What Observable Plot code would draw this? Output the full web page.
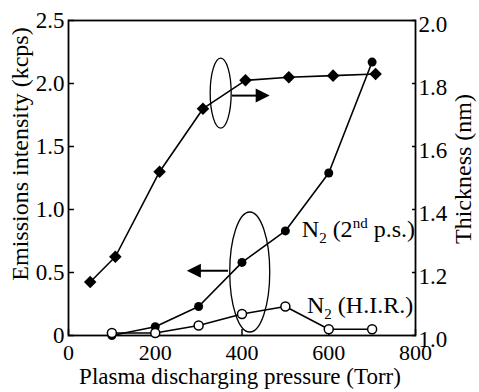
<!DOCTYPE html>
<html><head><meta charset="utf-8">
<script src="https://cdn.jsdelivr.net/npm/d3@7"></script>
<script src="https://cdn.jsdelivr.net/npm/@observablehq/plot@0.6"></script>
<style>body{margin:0;background:#fff} svg{display:block} svg, svg text {font-family: "Liberation Serif", "DejaVu Serif", serif !important;}</style>
</head><body><div id="chart"></div>
<script>
// ---- data ----
const thickPressure = [50, 108, 210, 310, 408, 508, 610, 708];
const thickness     = [1.17, 1.25, 1.52, 1.72, 1.81, 1.82, 1.825, 1.83];
const n2Pressure    = [100, 200, 300, 400, 500, 600, 700];
const n2Second      = [0.0, 0.07, 0.23, 0.58, 0.83, 1.29, 2.17];
const n2HIR         = [0.02, 0.02, 0.08, 0.17, 0.23, 0.05, 0.05];
const xTicks          = [0, 200, 400, 600, 800];
const leftTicks       = [0, 0.5, 1, 1.5, 2, 2.5];
const leftTickLabels  = ["0", "0.5", "1.0", "1.5", "2.0", "2.5"];
const rightTickLabels = ["1.0", "1.2", "1.4", "1.6", "1.8", "2.0"];
const leftDomain  = [0, 2.5];
const thickDomain = [1.0, 2.0];
const xTitle = "Plasma discharging pressure (Torr)";
const yTitle = "Emissions intensity (kcps)";
const y2Title = "Thickness (nm)";

// annotations (callout ellipses, arrows, series labels)
const ellipseNotes = [{x: 352, y: 1.92, rx: 10.5, ry: 35}, {x: 419, y: 0.5, rx: 20, ry: 60}];
const arrowNotes = [{x1: 378, x2: 465, y: 1.90}, {x1: 369, x2: 274, y: 0.51}];
const labelNotes = [
  {x: 539, y: 0.78, parts: [["N"], ["2", "sub"], [" (2"], ["nd", "sup"], [" p.s.)"]]},
  {x: 551, y: 0.175, parts: [["N"], ["2", "sub"], [" (H.I.R.)"]]}
];

// ---- build tables ----
const toLeft = t => (t - thickDomain[0]) / (thickDomain[1] - thickDomain[0]) * (leftDomain[1] - leftDomain[0]);
const thickData = thickPressure.map((p, i) => ({p, v: toLeft(thickness[i])}));
const secondData = n2Pressure.map((p, i) => ({p, v: n2Second[i]}));
const hirData = n2Pressure.map((p, i) => ({p, v: n2HIR[i]}));
const font = "Liberation Serif, DejaVu Serif, serif";

function annotate(index, scales) {
  const sx = scales.x, sy = scales.y;
  const g = d3.create("svg:g").attr("fill", "none").attr("stroke", "#000");
  for (const e of ellipseNotes) {
    g.append("ellipse").attr("cx", sx(e.x)).attr("cy", sy(e.y)).attr("rx", e.rx).attr("ry", e.ry).attr("stroke-width", 1.3);
  }
  for (const a of arrowNotes) {
    const x1 = sx(a.x1), x2 = sx(a.x2), y = sy(a.y);
    const dir = Math.sign(x2 - x1), L = 14, W = 7;
    g.append("line").attr("x1", x1).attr("x2", x2 - dir * (L - 1)).attr("y1", y).attr("y2", y).attr("stroke-width", 2);
    g.append("path").attr("d", `M${x2},${y}L${x2 - dir * L},${y - W}L${x2 - dir * L},${y + W}Z`)
      .attr("fill", "#000").attr("stroke", "none");
  }
  for (const t of labelNotes) {
    const text = g.append("text").attr("x", sx(t.x)).attr("y", sy(t.y))
      .attr("fill", "#000").attr("stroke", "none").attr("font-size", 24)
      .attr("text-anchor", "start")
      .attr("font-family", font).style("white-space", "pre");
    let shift = 0;
    for (const [s, kind] of t.parts) {
      const target = kind === "sub" ? 6 : kind === "sup" ? -9 : 0;
      text.append("tspan").attr("dy", target - shift)
        .attr("font-size", kind ? 15 : 24).text(s);
      shift = target;
    }
  }
  return g.node();
}

const chart = Plot.plot({
  width: 479, height: 392,
  marginLeft: 68, marginRight: 64, marginTop: 20, marginBottom: 57,
  style: {fontFamily: font, background: "#fff", color: "#000"},
  x: {domain: [0, 800]},
  y: {domain: leftDomain},
  marks: [
    // inward tick marks
    Plot.axisX({ticks: xTicks, tickSize: 6, inset: 6, tickFormat: () => "", label: null, strokeWidth: 1.5}),
    Plot.axisY({ticks: leftTicks, anchor: "left", tickSize: 6, inset: 6, tickFormat: () => "", label: null, strokeWidth: 1.5}),
    Plot.axisY({ticks: leftTicks, anchor: "right", tickSize: 4, inset: 4, tickFormat: () => "", label: null, strokeWidth: 1.5}),
    // tick labels
    Plot.axisX({ticks: xTicks, tickSize: 0, tickPadding: 9, label: null, fontSize: 22, tickFormat: d => String(d)}),
    Plot.axisY({ticks: leftTicks, anchor: "left", tickSize: 0, tickPadding: 4, label: null, fontSize: 23,
      tickFormat: d => leftTickLabels[leftTicks.indexOf(d)]}),
    Plot.axisY({ticks: leftTicks, anchor: "right", tickSize: 0, tickPadding: 3, label: null, fontSize: 23, dy: 4,
      tickFormat: d => rightTickLabels[leftTicks.indexOf(d)]}),
    Plot.frame({stroke: "#000", strokeWidth: 1.8}),
    // axis titles
    Plot.text([yTitle], {frameAnchor: "left", textAnchor: "middle", rotate: -90, dx: -48, dy: -24, fontSize: 24}),
    Plot.text([y2Title], {frameAnchor: "right", textAnchor: "middle", rotate: -90, dx: 48, dy: -9, fontSize: 24}),
    Plot.text([xTitle], {frameAnchor: "bottom", textAnchor: "middle", dx: -2, dy: 48.5, fontSize: 23}),
    // series
    Plot.line(thickData, {x: "p", y: "v", stroke: "#000", strokeWidth: 1.6}),
    Plot.line(secondData, {x: "p", y: "v", stroke: "#000", strokeWidth: 1.6}),
    Plot.line(hirData, {x: "p", y: "v", stroke: "#000", strokeWidth: 1.6}),
    Plot.dot(thickData, {x: "p", y: "v", symbol: "square", rotate: 45, r: 5, fill: "#000", stroke: "none"}),
    Plot.dot(secondData, {x: "p", y: "v", r: 4.5, fill: "#000", stroke: "none"}),
    Plot.dot(hirData, {x: "p", y: "v", r: 4.5, fill: "#fff", stroke: "#000", strokeWidth: 1.5}),
    annotate
  ]
});
document.getElementById("chart").append(chart);
</script>
</body></html>
